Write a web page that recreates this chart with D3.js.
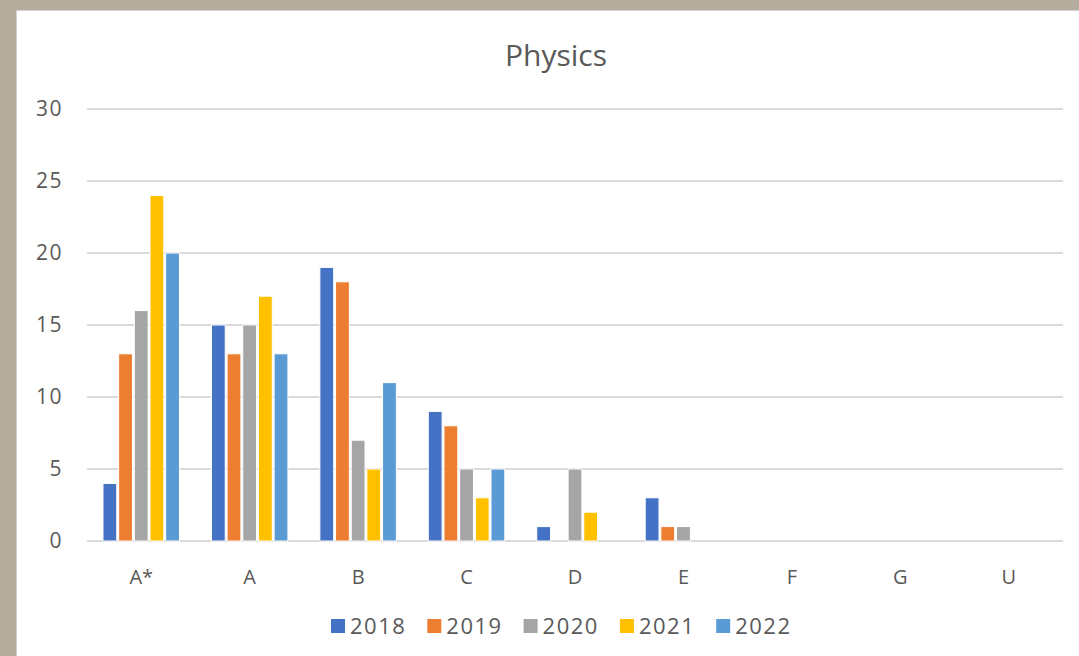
<!DOCTYPE html>
<html>
<head>
<meta charset="utf-8">
<script src="https://cdnjs.cloudflare.com/ajax/libs/d3/7.8.5/d3.min.js"></script>
<style>
  body { margin: 0; background: #b4ac9d; }
  svg { display: block; font-family: "Open Sans", sans-serif; }
</style>
</head>
<body>
<svg id="grafico" width="1079" height="656"></svg>
<script>
var grades = ["A*", "A", "B", "C", "D", "E", "F", "G", "U"];
var years = ["2018", "2019", "2020", "2021", "2022"];
var v2018 = [4, 15, 19, 9, 1, 3, 0, 0, 0];
var v2019 = [13, 13, 18, 8, 0, 1, 0, 0, 0];
var v2020 = [16, 15, 7, 5, 5, 1, 0, 0, 0];
var v2021 = [24, 17, 5, 3, 2, 0, 0, 0, 0];
var v2022 = [20, 13, 11, 5, 0, 0, 0, 0, 0];
var yTicks = [0, 5, 10, 15, 20, 25, 30];
var colors = ["#4472c4", "#ed7d31", "#a5a5a5", "#ffc000", "#5b9bd5"];

var series = [v2018, v2019, v2020, v2021, v2022];
var svg = d3.select("#grafico"),
    width = +svg.attr("width"),
    height = +svg.attr("height");

// panel
svg.append("rect")
    .attr("x", 16.5).attr("y", 10.5)
    .attr("width", width).attr("height", height)
    .attr("fill", "#fff")
    .attr("stroke", "#d0d0d0");

var plotLeft = 87, plotRight = 1063, plotTop = 109, plotBottom = 541;

var x = d3.scaleBand().domain(grades).range([plotLeft, plotRight]);
var x1 = d3.scaleBand().domain(years).range([0, x.bandwidth() * 0.74]).padding(0.12);
var y = d3.scaleLinear().domain([0, 30]).range([plotBottom, plotTop]);

svg.append("text")
    .attr("x", 556).attr("y", 66)
    .attr("text-anchor", "middle")
    .attr("font-size", 30)
    .attr("fill", "#595959")
    .text("Physics");

svg.append("g").selectAll("line")
    .data(yTicks)
    .enter().append("line")
    .attr("x1", plotLeft).attr("x2", plotRight)
    .attr("y1", function(d) { return y(d); })
    .attr("y2", function(d) { return y(d); })
    .attr("stroke", "#dadada")
    .attr("stroke-width", 2);

svg.append("g").selectAll("text")
    .data(yTicks)
    .enter().append("text")
    .attr("x", 63)
    .attr("y", function(d) { return y(d); })
    .attr("dy", "0.35em")
    .attr("text-anchor", "end")
    .attr("font-size", 21)
    .attr("letter-spacing", 1.5)
    .attr("fill", "#595959")
    .text(function(d) { return d; });

svg.append("g").selectAll("text")
    .data(grades)
    .enter().append("text")
    .attr("x", function(d) { return x(d) + x.bandwidth() / 2; })
    .attr("y", 584)
    .attr("text-anchor", "middle")
    .attr("font-size", 20)
    .attr("fill", "#595959")
    .text(function(d) { return d; });

var off = x.bandwidth() * 0.13;
var grp = svg.append("g").selectAll("g")
    .data(series)
    .enter().append("g")
    .attr("fill", function(d, i) { return colors[i]; });

grp.each(function(vals, i) {
  d3.select(this).selectAll("rect")
    .data(vals.map(function(v, j) { return { g: grades[j], v: v }; }).filter(function(d) { return d.v > 0; }))
    .enter().append("rect")
    .attr("x", function(d) { return x(d.g) + off + x1(years[i]); })
    .attr("y", function(d) { return y(d.v); })
    .attr("width", x1.bandwidth())
    .attr("height", function(d) { return y(0) - y(d.v); })
    .attr("stroke", "#fff")
    .attr("stroke-width", 1);
});

var legend = svg.append("g").selectAll("g")
    .data(years)
    .enter().append("g")
    .attr("transform", function(d, i) { return "translate(" + (331 + i * 96.3) + ",619)"; });
legend.append("rect")
    .attr("width", 14).attr("height", 14)
    .attr("fill", function(d, i) { return colors[i]; });
legend.append("text")
    .attr("x", 19).attr("y", 7)
    .attr("dy", "0.36em")
    .attr("font-size", 22)
    .attr("letter-spacing", 1.5)
    .attr("fill", "#595959")
    .text(function(d) { return d; });
</script>
</body>
</html>
